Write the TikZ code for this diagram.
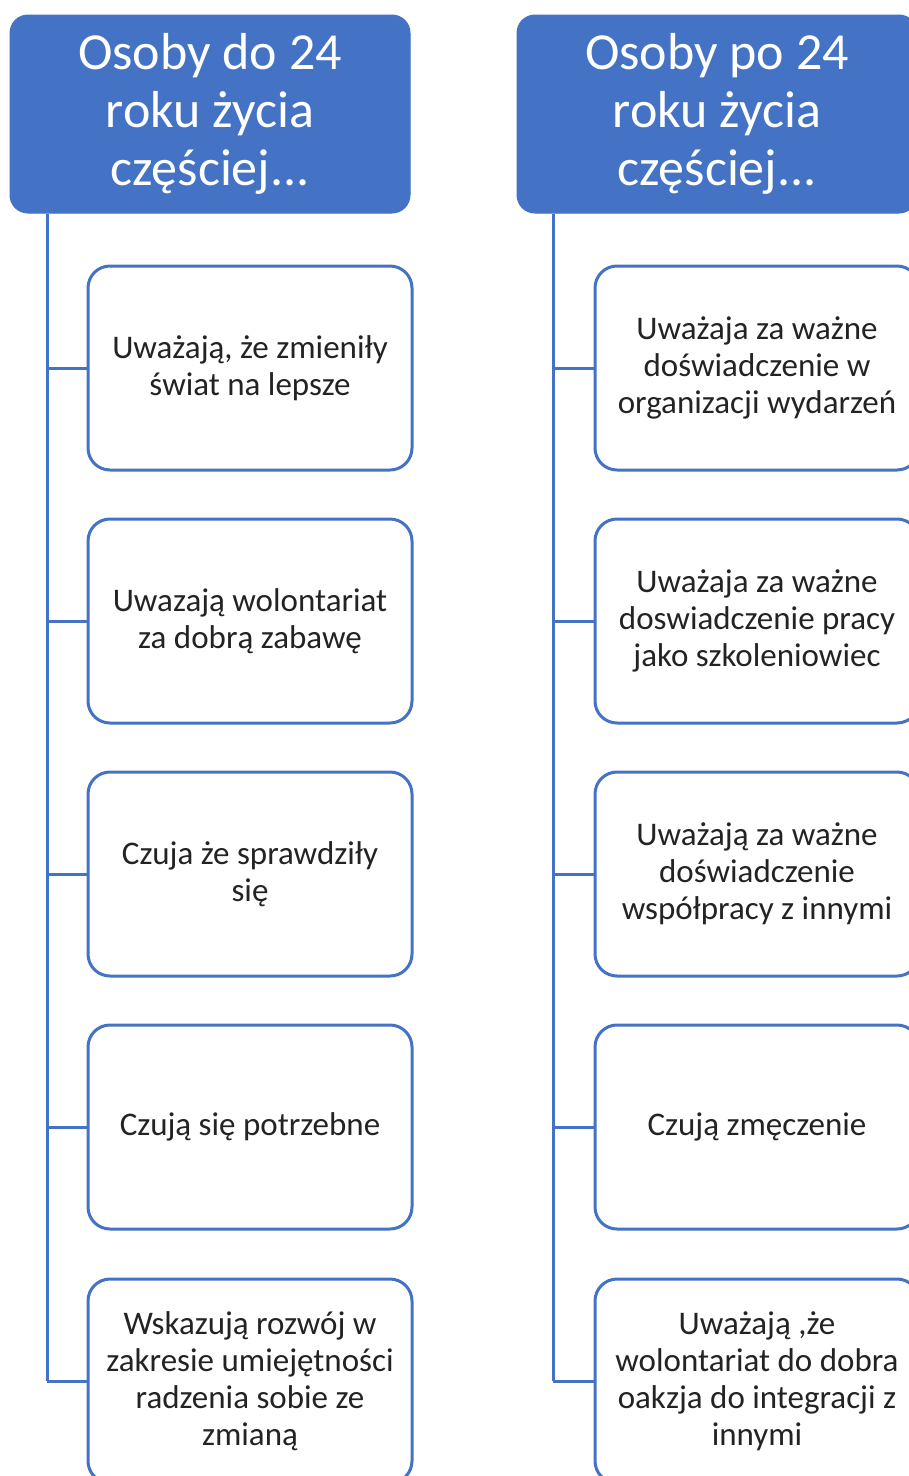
\documentclass[tikz,border=0pt]{standalone}
\usepackage{fontspec}
\setmainfont{Carlito}
\definecolor{accent}{RGB}{68,114,196}
\definecolor{txt}{RGB}{35,35,35}
\begin{document}
\begin{tikzpicture}[x=1pt,y=-1pt,
  headbox/.style={rectangle, rounded corners=18pt, fill=accent, draw=accent, line width=1pt,
    minimum width=400pt, minimum height=198pt, inner sep=0pt, text=white, align=center,
    font=\fontsize{52}{58}\selectfont},
  itembox/.style={rectangle, rounded corners=22pt, fill=white, draw=accent, line width=3pt,
    minimum width=324pt, minimum height=204pt, inner sep=0pt, text=txt, align=center,
    font=\fontsize{33}{37}\selectfont},
  conn/.style={draw=accent, line width=3pt}]
\useasboundingbox (0,0) rectangle (909,1476);
\clip (0,0) rectangle (909,1476);
\fill[white] (0,0) rectangle (909,1476);
% left column
\node[headbox] (h1) at (210,114) {Osoby do 24\\roku życia\\częściej...};
\coordinate (lx) at (47,0);
\node[itembox] (a1) at (250,368) {Uważają, że zmieniły\\świat na lepsze};
\node[itembox] (a2) at (250,621) {Uwazają wolontariat\\za dobrą zabawę};
\node[itembox] (a3) at (250,874) {Czuja że sprawdziły\\się};
\node[itembox] (a4) at (250,1127) {Czują się potrzebne};
\node[itembox] (a5) at (250,1381) {Wskazują rozwój w\\zakresie umiejętności\\radzenia sobie ze\\zmianą};
\draw[conn] (lx |- h1.south) -- (lx |- a5.west);
\foreach \n in {a1,a2,a3,a4,a5} \draw[conn] (lx |- \n.west) -- (\n.west);
% right column
\node[headbox] (h2) at (717,114) {Osoby po 24\\roku życia\\częściej...};
\coordinate (rx) at (553,0);
\node[itembox] (b1) at (757,368) {Uważaja za ważne\\doświadczenie w\\organizacji wydarzeń};
\node[itembox] (b2) at (757,621) {Uważaja za ważne\\doswiadczenie pracy\\jako szkoleniowiec};
\node[itembox] (b3) at (757,874) {Uważają za ważne\\doświadczenie\\współpracy z innymi};
\node[itembox] (b4) at (757,1127) {Czują zmęczenie};
\node[itembox] (b5) at (757,1381) {Uważają ,że\\wolontariat do dobra\\oakzja do integracji z\\innymi};
\draw[conn] (rx |- h2.south) -- (rx |- b5.west);
\foreach \n in {b1,b2,b3,b4,b5} \draw[conn] (rx |- \n.west) -- (\n.west);
\end{tikzpicture}
\end{document}
